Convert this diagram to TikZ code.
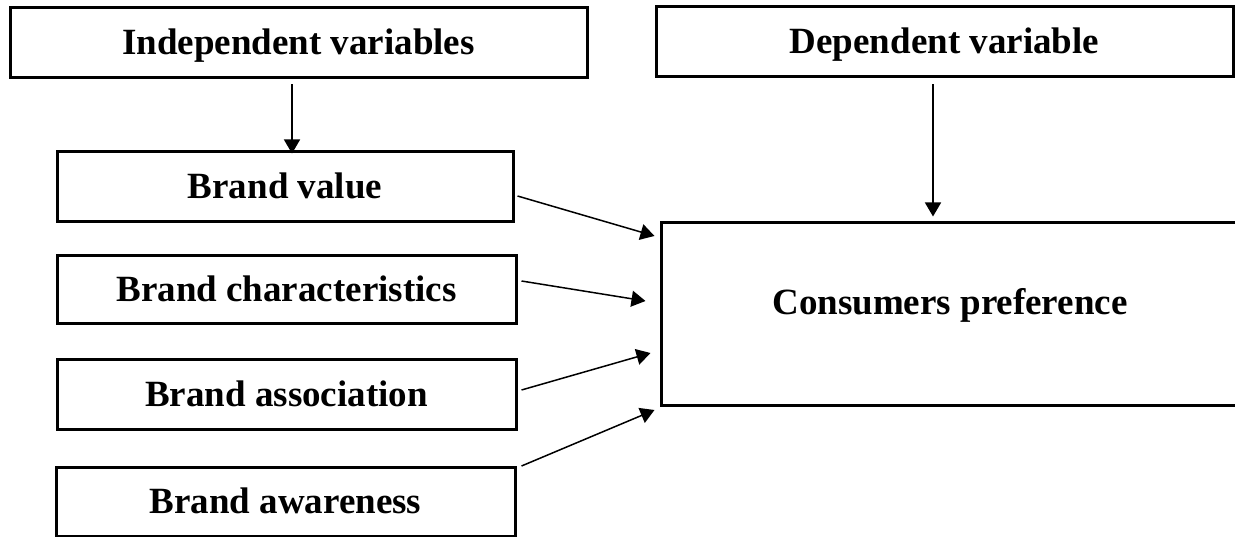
\documentclass[tikz,border=0pt]{standalone}
\usepackage{fontspec}
\setmainfont{Liberation Serif}
\usetikzlibrary{arrows.meta,calc}
\begin{document}
\begin{tikzpicture}[x=1pt,y=-1pt,
  box/.style={draw=black,line width=3pt,inner sep=0pt,text height=24pt,text depth=0pt,font=\fontsize{37}{44}\selectfont\bfseries},
  lbl/.style={inner sep=0pt,text height=24pt,text depth=0pt,font=\fontsize{37}{44}\selectfont\bfseries},
  arr/.style={draw=black,line width=1.5pt,-{Triangle[length=14pt,width=16pt]}}]
\useasboundingbox (0,0) rectangle (1235,537);
\clip (0,0) rectangle (1235,537);
\node[box,minimum width=577pt,minimum height=70pt] (indep) at (298.5,43) {Independent variables};
\node[box,minimum width=577pt,minimum height=70pt] (dep) at (944.5,42) {Dependent variable};
\node[box,minimum width=456pt,minimum height=70pt] (bv) at (285,187) {Brand value};
\node[box,minimum width=459pt,minimum height=68pt] (bc) at (286.5,290) {Brand characteristics};
\node[box,minimum width=459pt,minimum height=69pt] (ba) at (286.5,394.5) {Brand association};
\node[box,minimum width=459pt,minimum height=69pt] (baw) at (285.5,501.5) {Brand awareness};
\node[box,minimum width=578pt,minimum height=183pt] (cp) at (950,314.5) {};
\node[lbl] (cpt) at (950,303) {Consumers preference};
\draw[arr] ($(indep.south)+(-6.5,5)$) -- ($(bv.north)+(7,3)$);
\draw[arr] ($(dep.south)+(-11.5,6)$) -- ($(cp.north)+(-17,-5)$);
\draw[arr] ($(bv.east)+(3,9)$) -- ($(cp.west)+(-5,-78.5)$);
\draw[arr] ($(bc.east)+(4,-9)$) -- ($(cp.west)+(-14,-13.5)$);
\draw[arr] ($(ba.east)+(4,-4.5)$) -- ($(cp.west)+(-9,38.5)$);
\draw[arr] ($(baw.east)+(5,-35.5)$) -- ($(cp.west)+(-5,95.5)$);
\end{tikzpicture}
\end{document}
